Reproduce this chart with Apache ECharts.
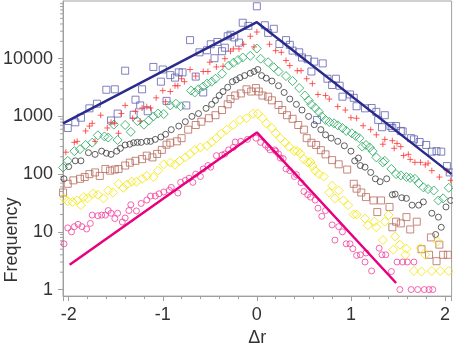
<!DOCTYPE html>
<html>
<head>
<meta charset="utf-8">
<script src="https://cdn.jsdelivr.net/npm/echarts@6.0.0/dist/echarts.min.js"></script>
<style>
html, body { margin: 0; padding: 0; background: #fff; }
#chart { width: 453px; height: 352px; }
</style>
</head>
<body>
<div id="chart"></div>
<script>
// [dr, frequency]
var blueSquares = [[-2.01,630],[-1.93,790],[-1.87,950],[-1.78,1380],[-1.70,1660],[-1.60,2900],[-1.55,850],[-1.51,2950],[-1.48,1120],[-1.40,6200],[-1.31,1070],[-1.29,1950],[-1.24,1550],[-1.22,2950],[-1.16,1230],[-1.10,7200],[-1.02,4000],[-1.00,6500],[-0.96,1860],[-0.92,5200],[-0.87,4700],[-0.83,5800],[-0.79,5800],[-0.75,1550],[-0.71,21000],[-0.65,4900],[-0.61,12900],[-0.57,2600],[-0.53,14000],[-0.49,17800],[-0.45,10200],[-0.42,19500],[-0.37,13500],[-0.34,15500],[-0.31,24500],[-0.28,26000],[-0.24,23400],[-0.19,19000],[-0.15,42000],[-0.09,37000],[0.00,81000],[0.085,38000],[0.12,28000],[0.18,33000],[0.24,18000],[0.31,21000],[0.35,17400],[0.38,13800],[0.45,12900],[0.48,10500],[0.54,9800],[0.58,6000],[0.61,8900],[0.64,870],[0.70,8300],[0.75,4500],[0.80,3500],[0.84,4500],[0.88,3400],[0.91,2200],[0.99,2400],[1.03,2100],[1.06,1500],[1.15,1380],[1.22,1400],[1.27,1200],[1.29,870],[1.33,650],[1.36,1050],[1.42,680],[1.44,630],[1.48,680],[1.53,560],[1.55,550],[1.64,420],[1.67,400],[1.73,360],[1.80,320],[1.86,245],[1.91,250],[1.96,245],[2.02,138],[2.05,107]];

var redPlus = [[-2.03,240],[-1.94,355],[-1.91,370],[-1.82,560],[-1.78,680],[-1.75,760],[-1.72,370],[-1.66,1050],[-1.59,630],[-1.55,790],[-1.51,760],[-1.47,510],[-1.44,1120],[-1.40,1550],[-1.32,930],[-1.29,1230],[-1.24,830],[-1.22,1400],[-1.17,1480],[-1.13,1400],[-1.07,2100],[-1.00,2800],[-0.97,1800],[-0.92,2700],[-0.87,3400],[-0.84,3400],[-0.80,4500],[-0.77,4000],[-0.71,6500],[-0.65,5000],[-0.57,6000],[-0.52,6000],[-0.50,8700],[-0.43,7200],[-0.36,7400],[-0.34,10000],[-0.28,13500],[-0.25,14800],[-0.19,14800],[-0.14,17800],[-0.07,24500],[-0.03,16000],[0.00,29000],[0.135,17800],[0.20,13800],[0.26,12900],[0.31,9300],[0.35,7600],[0.43,6200],[0.47,6200],[0.53,4500],[0.59,3700],[0.65,2400],[0.73,2300],[0.77,2000],[0.86,1480],[0.94,1290],[1.00,950],[1.06,930],[1.13,690],[1.21,590],[1.27,480],[1.34,330],[1.36,400],[1.44,380],[1.46,280],[1.49,340],[1.53,300],[1.56,210],[1.61,220],[1.63,180],[1.68,160],[1.74,160],[1.79,145],[1.82,155],[1.86,115],[1.94,89],[2.02,115],[2.06,78]];

var greenDiamonds = [[-2.06,130],[-2.01,170],[-1.94,250],[-1.88,270],[-1.82,320],[-1.75,350],[-1.69,470],[-1.62,450],[-1.58,430],[-1.52,720],[-1.48,390],[-1.40,710],[-1.34,540],[-1.27,830],[-1.20,720],[-1.15,850],[-1.10,1000],[-1.05,1120],[-0.99,1100],[-0.92,1550],[-0.86,1660],[-0.81,1500],[-0.70,2800],[-0.66,2600],[-0.62,2950],[-0.57,3300],[-0.53,3700],[-0.48,4000],[-0.44,4500],[-0.37,5500],[-0.30,7600],[-0.25,8500],[-0.20,9500],[-0.15,10500],[-0.07,11200],[0.00,15000],[0.04,10000],[0.12,8700],[0.18,7100],[0.23,6000],[0.31,5000],[0.38,4100],[0.45,3100],[0.51,2300],[0.55,1900],[0.58,1600],[0.62,1400],[0.66,1200],[0.69,1000],[0.73,870],[0.77,800],[0.82,760],[0.86,700],[0.91,630],[0.95,560],[1.01,510],[1.05,460],[1.09,420],[1.12,300],[1.16,320],[1.20,290],[1.23,250],[1.27,195],[1.34,160],[1.36,170],[1.43,123],[1.48,100],[1.53,95],[1.59,89],[1.63,86],[1.68,83],[1.72,70],[1.77,59],[1.82,55],[1.88,52],[1.93,35],[1.98,38],[2.04,58]];

var blackCircles = [[-2.05,83],[-2.00,135],[-1.93,170],[-1.87,170],[-1.79,235],[-1.72,220],[-1.65,250],[-1.60,230],[-1.55,220],[-1.49,250],[-1.45,280],[-1.40,320],[-1.35,330],[-1.31,350],[-1.27,355],[-1.23,355],[-1.17,370],[-1.13,370],[-1.08,400],[-1.02,440],[-0.97,490],[-0.91,590],[-0.83,680],[-0.76,810],[-0.69,1000],[-0.62,1120],[-0.54,1380],[-0.48,1620],[-0.44,1900],[-0.40,2300],[-0.36,2700],[-0.31,3200],[-0.26,4000],[-0.22,4300],[-0.18,4700],[-0.13,5100],[-0.07,5600],[-0.03,6000],[0.01,6500],[0.05,5100],[0.10,4600],[0.16,4100],[0.23,3400],[0.29,2600],[0.35,2000],[0.42,1620],[0.48,1290],[0.55,1000],[0.61,720],[0.68,590],[0.73,480],[0.79,420],[0.86,370],[0.93,310],[1.00,250],[1.04,170],[1.08,190],[1.10,141],[1.15,132],[1.21,107],[1.26,83],[1.31,74],[1.38,83],[1.44,44],[1.47,45],[1.54,39],[1.59,38],[1.65,29],[1.72,29],[1.77,33],[1.86,21],[1.90,9],[1.93,18],[1.96,12],[2.01,27],[2.06,35]];

var brownSquares = [[-2.06,48],[-2.01,68],[-1.95,78],[-1.88,83],[-1.83,89],[-1.78,100],[-1.72,107],[-1.67,93],[-1.61,123],[-1.56,115],[-1.51,120],[-1.47,123],[-1.40,141],[-1.35,158],[-1.29,170],[-1.22,182],[-1.17,209],[-1.11,195],[-1.06,224],[-1.01,263],[-0.96,324],[-0.92,350],[-0.85,370],[-0.80,420],[-0.73,590],[-0.65,710],[-0.59,810],[-0.51,930],[-0.44,1050],[-0.37,1290],[-0.31,1620],[-0.28,2000],[-0.23,2300],[-0.17,2500],[-0.11,2950],[-0.06,2700],[-0.01,3100],[0.02,2700],[0.06,2300],[0.12,2200],[0.16,1900],[0.23,1580],[0.27,1290],[0.32,1050],[0.38,910],[0.44,710],[0.50,590],[0.53,420],[0.58,350],[0.63,320],[0.68,260],[0.73,220],[0.80,175],[0.87,148],[0.96,120],[1.03,68],[1.06,56],[1.11,48],[1.16,40],[1.24,35],[1.28,22],[1.32,35],[1.41,27],[1.44,12],[1.48,15],[1.53,14],[1.59,18],[1.63,11],[1.70,15],[1.75,5],[1.83,4],[1.85,8],[1.91,3.1],[1.94,6],[1.98,4],[2.03,4]];

var yellowDiamonds = [[-2.05,38],[-2.01,34],[-1.96,33],[-1.91,35],[-1.87,29],[-1.84,40],[-1.80,38],[-1.74,46],[-1.69,44],[-1.63,38],[-1.58,52],[-1.53,48],[-1.47,68],[-1.42,58],[-1.38,66],[-1.33,74],[-1.28,74],[-1.22,83],[-1.17,93],[-1.10,89],[-1.05,115],[-0.99,148],[-0.92,158],[-0.87,145],[-0.82,170],[-0.76,195],[-0.71,224],[-0.66,263],[-0.60,290],[-0.53,310],[-0.48,360],[-0.43,420],[-0.38,500],[-0.32,590],[-0.25,710],[-0.18,870],[-0.11,930],[-0.04,1120],[0.01,1120],[0.06,930],[0.10,760],[0.16,630],[0.20,510],[0.25,420],[0.30,350],[0.34,300],[0.40,250],[0.43,250],[0.46,230],[0.50,182],[0.54,160],[0.57,162],[0.59,138],[0.62,115],[0.66,100],[0.71,91],[0.77,48],[0.80,63],[0.83,38],[0.87,52],[0.92,35],[0.97,29],[1.03,20],[1.06,20],[1.15,17],[1.18,13],[1.25,15],[1.27,12],[1.34,7.2],[1.36,15],[1.40,19.5],[1.45,4.9],[1.47,8.3],[1.52,6],[1.58,4],[1.59,5.1],[1.67,2.1],[1.74,5.2],[1.75,2.05],[1.79,4],[1.86,2.1],[1.92,6.8],[1.95,2.1],[2.04,2.1]];

var pinkCircles = [[-2.05,6.2],[-2.01,11.7],[-1.97,10],[-1.94,12.3],[-1.90,13.5],[-1.86,12.3],[-1.81,11.2],[-1.77,14],[-1.75,19.5],[-1.69,19],[-1.65,19.5],[-1.61,19.5],[-1.58,23.4],[-1.55,21],[-1.51,17],[-1.48,21],[-1.43,14.8],[-1.40,17.4],[-1.36,23.4],[-1.34,29.5],[-1.28,23],[-1.23,31],[-1.17,35.5],[-1.13,41.7],[-1.08,41.7],[-1.04,45.7],[-0.99,49],[-0.93,52.5],[-0.91,59],[-0.84,47],[-0.81,72],[-0.76,78],[-0.72,85],[-0.68,72],[-0.65,100],[-0.60,91],[-0.57,123],[-0.52,141],[-0.49,132],[-0.43,209],[-0.37,214],[-0.34,224],[-0.30,263],[-0.25,290],[-0.23,360],[-0.17,370],[-0.10,400],[-0.01,420],[0.04,355],[0.09,320],[0.12,290],[0.14,263],[0.19,263],[0.20,250],[0.23,224],[0.25,190],[0.28,186],[0.31,123],[0.35,115],[0.40,91],[0.42,98],[0.47,71],[0.50,50],[0.54,44],[0.57,40],[0.62,35.5],[0.65,25.7],[0.69,18.6],[0.73,23.4],[0.80,13.2],[0.83,7.2],[0.87,12.3],[0.91,10],[0.95,6.2],[0.99,6.2],[1.02,5.1],[1.06,3.9],[1.10,4],[1.15,3],[1.16,4.3],[1.22,2.1],[1.30,5.2],[1.33,4],[1.37,4],[1.43,2.05],[1.49,3],[1.52,1],[1.55,3],[1.60,3],[1.64,1],[1.67,3],[1.71,1],[1.78,1],[1.83,1],[1.87,1]];

var navyLine = [[-2.06,760],[0,43000],[2.07,100]];
var pinkLine = [[-1.99,2.7],[0,528],[1.48,1.3]];

var xTicks = [-2, -1, 0, 1, 2];
var yTickLabels = [1, 10, 100, 1000, 10000];
var yMinorTicks = [2,3,4,5,6,7,8,9,20,30,40,50,60,70,80,90,200,300,400,500,600,700,800,900,2000,3000,4000,5000,6000,7000,8000,9000,20000,30000,40000,50000,60000,70000,80000,90000];

var xMin = -2.06, xMax = 2.07;
var font = 'Liberation Sans';
var textColor = '#333';
var axisColor = '#a0a0a0';

function hollow(name, data, symbol, size, color) {
	return {
		name: name,
		type: 'scatter',
		data: data,
		symbol: symbol,
		symbolSize: size,
		itemStyle: { color: 'rgba(0,0,0,0)', borderColor: color, borderWidth: 1 },
		emphasis: { disabled: true },
		z: 3
	};
}

var chart = echarts.init(document.getElementById('chart'));
chart.setOption({
	animation: false,
	grid: { left: 62, right: 1, top: 1, bottom: 52, show: true, borderColor: axisColor, borderWidth: 1 },
	xAxis: {
		type: 'value',
		min: xMin,
		max: xMax,
		splitNumber: 4,
		name: 'Δr',
		nameLocation: 'middle',
		nameGap: 27,
		nameTextStyle: { fontFamily: font, fontSize: 18, color: textColor },
		axisLine: { onZero: false, lineStyle: { color: axisColor } },
		axisTick: { length: 5, lineStyle: { color: axisColor } },
		minorTick: { show: true, splitNumber: 5, length: 3, lineStyle: { color: axisColor } },
		splitLine: { show: false },
		axisLabel: {
			fontFamily: font, fontSize: 18, color: textColor, margin: 10,
			showMinLabel: false, showMaxLabel: false,
			formatter: function (v) { return xTicks.indexOf(v) >= 0 ? String(v) : ''; }
		}
	},
	yAxis: {
		type: 'log',
		logBase: 10,
		min: 0.77,
		max: 100000,
		axisLine: { show: true, onZero: false, lineStyle: { color: axisColor } },
		axisTick: { show: true, length: 5, lineStyle: { color: axisColor } },
		splitLine: { show: false },
		axisLabel: {
			fontFamily: font, fontSize: 18, color: textColor, margin: 10,
			showMinLabel: false, showMaxLabel: false,
			formatter: function (v) {
				var r = Math.round(v);
				return yTickLabels.indexOf(r) >= 0 && Math.abs(v - r) < 1e-6 * r ? String(r) : '';
			}
		}
	},
	graphic: [{
		type: 'text',
		x: 12, y: 240,
		rotation: Math.PI / 2,
		style: { text: 'Frequency', font: '18px "Liberation Sans"', fill: textColor, textAlign: 'center', textVerticalAlign: 'middle' }
	}],
	series: [
		{
			type: 'custom',
			clip: false,
			silent: true,
			data: yMinorTicks.map(function (v) { return [xMin, v]; }),
			renderItem: function (params, api) {
				var p = api.coord([api.value(0), api.value(1)]);
				return { type: 'line', shape: { x1: p[0] - 3, y1: p[1], x2: p[0], y2: p[1] }, style: { stroke: axisColor, lineWidth: 1 } };
			}
		},
		hollow('squares', blueSquares, 'rect', 7, '#6262b2'),
		hollow('plus', redPlus, 'path://M5,0L5,10M0,5L10,5', 6, '#ff3333'),
		hollow('diamonds', greenDiamonds, 'diamond', 9, '#1ea65a'),
		hollow('circles', blackCircles, 'circle', 6, '#3a3a3a'),
		hollow('brown', brownSquares, 'rect', 7, '#b86a5c'),
		hollow('yellow', yellowDiamonds, 'diamond', 9, '#f2e600'),
		hollow('pink', pinkCircles, 'circle', 6, '#f2409a'),
		{ type: 'line', data: navyLine, symbol: 'none', lineStyle: { color: '#2b2b8c', width: 2.5 }, z: 4, silent: true },
		{ type: 'line', data: pinkLine, symbol: 'none', lineStyle: { color: '#e8007f', width: 2.5 }, z: 4, silent: true }
	]
});
</script>
</body>
</html>
